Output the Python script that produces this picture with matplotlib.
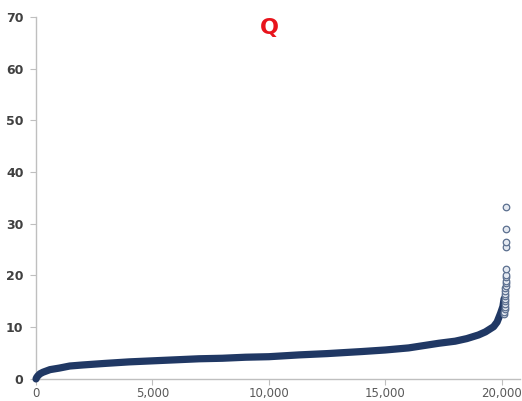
import matplotlib
matplotlib.use('Agg')
import matplotlib.pyplot as plt
from matplotlib.ticker import FuncFormatter

# Sorted Q values (rank -> value)
body_rank = [0, 30, 80, 170, 300, 600, 1000, 1450, 2000, 2950, 4000, 5000,
             6000, 7000, 8000, 9000, 10000, 11300, 12500, 14000, 15000, 16000,
             17300, 18000, 18500, 19000, 19300, 19650, 19800, 19950, 20050, 20100]
body_val = [0.0, 0.3, 0.6, 1.0, 1.3, 1.8, 2.1, 2.5, 2.7, 3.0, 3.3, 3.5,
            3.7, 3.9, 4.0, 4.2, 4.3, 4.65, 4.9, 5.3, 5.6, 6.0,
            6.9, 7.3, 7.8, 8.5, 9.1, 10.1, 11.0, 12.7, 14.0, 15.5]

# upper tail, individual points
tail_rank = [20110, 20115, 20120, 20125, 20130, 20135, 20140, 20145, 20150,
             20155, 20160, 20165, 20170, 20175, 20180, 20185, 20190, 20193,
             20196, 20198, 20200]
tail_val = [12.5, 13.0, 13.5, 14.0, 14.5, 15.0, 15.5, 16.0, 16.5, 17.0, 17.5,
            18.0, 18.5, 19.0, 19.7, 20.1, 21.2, 25.6, 26.4, 29.0, 33.3]

y_ticks = [0, 10, 20, 30, 40, 50, 60, 70]
x_ticks = [0, 5000, 10000, 15000, 20000]

NAVY = '#203864'
AXIS = '#bfbfbf'

fig = plt.figure(figsize=(5.22, 4.01), dpi=100)
ax = fig.add_axes([0.069, 0.055, 0.927, 0.903])

# dense body of the scatter reads as one thick band
ax.plot(body_rank, body_val, color=NAVY, linewidth=5.2, solid_capstyle='round',
        solid_joinstyle='round', zorder=2, clip_on=False)
ax.scatter(tail_rank, tail_val, s=22, facecolor='#e4e9f1', edgecolor='#5b6f8f',
           linewidth=0.9, zorder=3)

ax.set_ylim(0, 70)
ax.set_xlim(0, 20780)
ax.set_yticks(y_ticks)
ax.set_xticks(x_ticks)
ax.xaxis.set_major_formatter(FuncFormatter(lambda v, p: f'{int(v):,}'))

for s in ['top', 'right']:
    ax.spines[s].set_visible(False)
for s in ['left', 'bottom']:
    ax.spines[s].set_color(AXIS)
    ax.spines[s].set_linewidth(1.0)
    ax.spines[s].set_zorder(1)

ax.tick_params(axis='y', colors=AXIS, length=4, labelcolor='#404040',
               labelsize=9, pad=5)
ax.tick_params(axis='x', colors=AXIS, length=4, labelcolor='#595959',
               labelsize=8.5, pad=2)
for lab in ax.get_yticklabels():
    lab.set_fontweight('bold')

fig.text(0.517, 0.93, 'Q', color='#e8141c', fontsize=16, fontweight='bold',
         ha='center', va='center')

fig.savefig('out.png', dpi=100)
